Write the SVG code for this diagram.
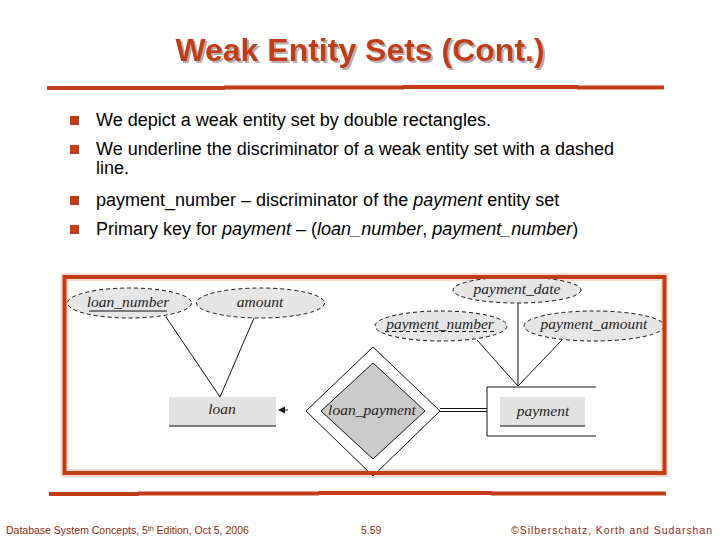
<svg xmlns="http://www.w3.org/2000/svg" width="720" height="540" viewBox="0 0 720 540">
<defs>
<style>
.title{font-family:"Liberation Sans",Arial,sans-serif;font-weight:bold;font-size:32px}
.bt{font-family:"Liberation Sans",Arial,sans-serif;font-size:18px;fill:#000}
.bul{fill:#C23D17}
.er{font-family:"Liberation Serif","DejaVu Serif",serif;font-style:italic;font-size:15.5px;fill:#222;text-anchor:middle}
.attr{fill:#E6E6E6;stroke:#111;stroke-width:1;stroke-dasharray:4 3}
.ln{stroke:#111;stroke-width:1;fill:none}
.foot{font-family:"Liberation Sans",Arial,sans-serif;font-size:10.5px;fill:#8E2C0C}
.rule{fill:#C23D17}
</style>
<filter id="shadow" x="-5%" y="-20%" width="110%" height="140%">
<feOffset in="SourceAlpha" dx="2" dy="2" result="off"/>
<feFlood flood-color="#B8B0B0"/>
<feComposite in2="off" operator="in" result="sh"/>
<feMerge><feMergeNode in="sh"/><feMergeNode in="SourceGraphic"/></feMerge>
</filter>
</defs>
<rect width="720" height="540" fill="#fff"/>
<!-- title -->
<text class="title" x="360" y="61" text-anchor="middle" fill="#C23D17" filter="url(#shadow)">Weak Entity Sets (Cont.)</text>
<!-- top rule -->
<g id="top-rule">
<rect class="rule" x="47" y="86" width="178" height="4"/>
<rect class="rule" x="224" y="85.5" width="180" height="4"/>
<rect class="rule" x="403" y="85" width="175" height="4"/>
<rect class="rule" x="577" y="85.5" width="87" height="4"/>
</g>
<!-- bullets -->
<g id="bullets">
<rect class="bul" x="70" y="116" width="9" height="9"/>
<text class="bt" x="96" y="126">We depict a weak entity set by double rectangles.</text>
<rect class="bul" x="70" y="145" width="9" height="9"/>
<text class="bt" x="96" y="155">We underline the discriminator of a weak entity set  with a dashed</text>
<text class="bt" x="96" y="174">line.</text>
<rect class="bul" x="70" y="196" width="9" height="9"/>
<text class="bt" x="96" y="206">payment_number – discriminator of the <tspan font-style="italic">payment</tspan> entity set</text>
<rect class="bul" x="70" y="225" width="9" height="9"/>
<text class="bt" x="96" y="235">Primary key for <tspan font-style="italic">payment</tspan> – (<tspan font-style="italic">loan_number</tspan>, <tspan font-style="italic">payment_number</tspan>)</text>
</g>
<!-- frame glow -->
<rect x="64.5" y="277" width="600" height="196" fill="none" stroke="#F6DCCF" stroke-width="8"/>
<!-- connectors -->
<g id="connectors">
<line class="ln" x1="166" y1="317" x2="220" y2="397"/>
<line class="ln" x1="254" y1="318" x2="220" y2="397"/>
<line class="ln" x1="518" y1="302" x2="518" y2="386"/>
<line class="ln" x1="477" y1="340" x2="518" y2="386"/>
<line class="ln" x1="562" y1="340" x2="518" y2="386"/>
<line class="ln" x1="440" y1="408.5" x2="487" y2="408.5"/>
<line class="ln" x1="440" y1="411.5" x2="487" y2="411.5"/>
<line class="ln" x1="284" y1="410" x2="288" y2="410"/>
<polygon points="278,410 285,406.5 285,413.5" fill="#111"/>
</g>
<!-- nodes -->
<g id="loan_number">
<ellipse class="attr" cx="129.5" cy="303" rx="62" ry="15"/>
<text class="er" x="128" y="307">loan_number</text>
<line class="ln" x1="89" y1="311" x2="167" y2="311"/>
</g>
<g id="amount">
<ellipse class="attr" cx="260.5" cy="303" rx="64" ry="15"/>
<text class="er" x="260" y="307">amount</text>
</g>
<g id="payment_date">
<ellipse class="attr" cx="517" cy="290" rx="64" ry="13"/>
<text class="er" x="517" y="294">payment_date</text>
</g>
<g id="payment_number">
<ellipse class="attr" cx="441" cy="326" rx="66" ry="15"/>
<text class="er" x="440" y="329">payment_number</text>
<line class="ln" x1="385" y1="331.5" x2="495" y2="331.5" stroke-dasharray="4 3"/>
</g>
<g id="payment_amount">
<ellipse class="attr" cx="594" cy="326" rx="70" ry="15"/>
<text class="er" x="594" y="329">payment_amount</text>
</g>
<g id="loan">
<rect x="169" y="397" width="107" height="29" fill="#E2E2E2"/>
<line class="ln" x1="169" y1="426" x2="276" y2="426"/>
<text class="er" x="222" y="414">loan</text>
</g>
<g id="loan_payment">
<polygon points="373,347 440,411 373,476 306,411" fill="#fff" stroke="#111" stroke-width="1"/>
<polygon points="373,363 425,411 373,459 321,411" fill="#CBCBCB" stroke="#111" stroke-width="1"/>
<text class="er" x="372" y="415">loan_payment</text>
</g>
<g id="payment">
<path class="ln" d="M596,387 H487 V436 H596"/>
<rect x="500" y="397" width="85" height="29" fill="#E2E2E2"/>
<line class="ln" x1="500" y1="426" x2="585" y2="426"/>
<text class="er" x="543" y="416">payment</text>
</g>
<rect x="64.5" y="277" width="600" height="196" fill="none" stroke="#C23D17" stroke-width="4"/>
<!-- bottom rule -->
<g id="bottom-rule">
<rect class="rule" x="49" y="492" width="90" height="4"/>
<rect class="rule" x="138" y="491.5" width="181" height="4"/>
<rect class="rule" x="318" y="491" width="174" height="4"/>
<rect class="rule" x="491" y="491.5" width="175" height="4"/>
</g>
<!-- footer -->
<text class="foot" x="6" y="534">Database System Concepts, 5<tspan font-size="7" dy="-3">th</tspan><tspan dy="3"> Edition, Oct 5, 2006</tspan></text>
<text class="foot" x="361" y="534">5.59</text>
<text class="foot" x="712" y="534" text-anchor="end" textLength="201" lengthAdjust="spacing">©Silberschatz, Korth and Sudarshan</text>
</svg>
